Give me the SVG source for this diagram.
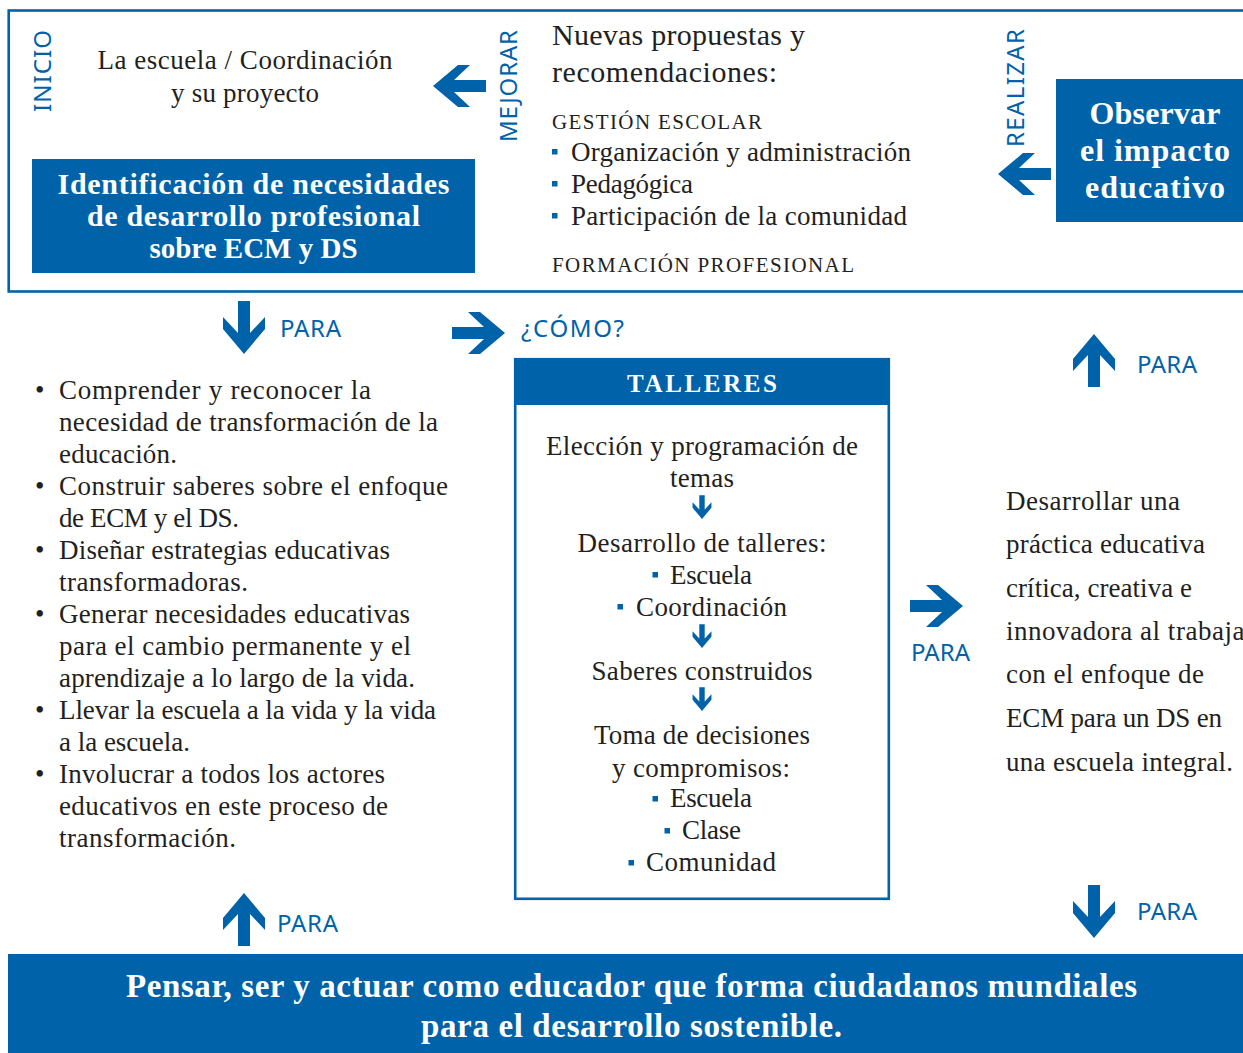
<svg xmlns="http://www.w3.org/2000/svg" xmlns:xlink="http://www.w3.org/1999/xlink" width="1243" height="1053" viewBox="0 0 1243 1053">
<style>
.s{font-family:"Liberation Serif","Times New Roman",serif;fill:#231f20;font-size:27px}
.big{font-size:30px}
.sc{font-family:"Liberation Serif","Times New Roman",serif;fill:#231f20;font-size:21px}
.b{font-family:"Liberation Serif","Times New Roman",serif;font-weight:bold;fill:#ffffff}
.lab{font-family:"Noto Sans","Open Sans",sans-serif;fill:#0062a8;font-size:24px}
.blue{fill:#0062a8}
.m{text-anchor:middle}
</style>
<defs>
<path id="bigArrow" d="M0,0 L-25,-21 L-37,-21 L-21,-6 L-53,-6 L-53,6 L-21,6 L-37,21 L-25,21 Z" fill="#0062a8"/>
</defs>
<rect width="1243" height="1053" fill="#ffffff"/>

<g id="top-frame">
<rect x="8.7" y="10.5" width="1260" height="281" fill="none" stroke="#0062a8" stroke-width="2.6"/>
</g>

<g id="inicio">
<text class="lab m" transform="translate(51,71) rotate(-90)" textLength="82">INICIO</text>
<text class="s m" x="245" y="69" textLength="295">La escuela / Coordinación</text>
<text class="s m" x="245" y="102" textLength="148">y su proyecto</text>
</g>

<g id="identificacion">
<rect x="32" y="159" width="443" height="114" class="blue"/>
<text class="b m" x="253.5" y="194" font-size="30" textLength="392">Identificación de necesidades</text>
<text class="b m" x="253.5" y="226" font-size="30" textLength="333">de desarrollo profesional</text>
<text class="b m" x="253.5" y="258" font-size="29">sobre ECM y DS</text>
</g>

<g id="propuestas">
<text class="s big" x="552" y="45" textLength="253">Nuevas propuestas y</text>
<text class="s big" x="552" y="82" textLength="225">recomendaciones:</text>
<text class="sc" x="552" y="129" textLength="210">GESTIÓN ESCOLAR</text>
<rect x="552" y="149" width="5.5" height="5.5" class="blue"/>
<text class="s" x="571" y="161" textLength="340">Organización y administración</text>
<rect x="552" y="181" width="5.5" height="5.5" class="blue"/>
<text class="s" x="571" y="193" textLength="122">Pedagógica</text>
<rect x="552" y="213" width="5.5" height="5.5" class="blue"/>
<text class="s" x="571" y="225" textLength="336">Participación de la comunidad</text>
<text class="sc" x="552" y="272" textLength="302">FORMACIÓN PROFESIONAL</text>
</g>

<g id="observar">
<rect x="1056" y="79" width="190" height="143" class="blue"/>
<text class="b m" x="1155" y="124" font-size="32" textLength="131">Observar</text>
<text class="b m" x="1155" y="161" font-size="32" textLength="150">el impacto</text>
<text class="b m" x="1155" y="198" font-size="32" textLength="140">educativo</text>
</g>

<g id="objetivos">
<text class="s" x="35" y="399">•</text>
<text class="s" x="59" y="399" textLength="312">Comprender y reconocer la</text>
<text class="s" x="59" y="431" textLength="379">necesidad de transformación de la</text>
<text class="s" x="59" y="463" textLength="118">educación.</text>
<text class="s" x="35" y="495">•</text>
<text class="s" x="59" y="495" textLength="389">Construir saberes sobre el enfoque</text>
<text class="s" x="59" y="527" textLength="180">de ECM y el DS.</text>
<text class="s" x="35" y="559">•</text>
<text class="s" x="59" y="559" textLength="331">Diseñar estrategias educativas</text>
<text class="s" x="59" y="591" textLength="189">transformadoras.</text>
<text class="s" x="35" y="623">•</text>
<text class="s" x="59" y="623" textLength="351">Generar necesidades educativas</text>
<text class="s" x="59" y="655" textLength="352">para el cambio permanente y el</text>
<text class="s" x="59" y="687" textLength="356">aprendizaje a lo largo de la vida.</text>
<text class="s" x="35" y="719">•</text>
<text class="s" x="59" y="719" textLength="377">Llevar la escuela a la vida y la vida</text>
<text class="s" x="59" y="751" textLength="131">a la escuela.</text>
<text class="s" x="35" y="783">•</text>
<text class="s" x="59" y="783" textLength="326">Involucrar a todos los actores</text>
<text class="s" x="59" y="815" textLength="329">educativos en este proceso de</text>
<text class="s" x="59" y="847" textLength="177">transformación.</text>
</g>

<g id="talleres">
<rect x="515.2" y="359.2" width="373.6" height="539.6" fill="#ffffff" stroke="#0062a8" stroke-width="2.6"/>
<rect x="514" y="358" width="376" height="47" class="blue"/>
<text class="b m" x="702" y="392" font-size="25" textLength="150">TALLERES</text>
<text class="s m" x="702" y="455" textLength="312">Elección y programación de</text>
<text class="s m" x="702" y="487" textLength="64">temas</text>
<use xlink:href="#bigArrow" transform="translate(702,519) rotate(90) scale(0.45)"/>
<text class="s m" x="702" y="552" textLength="249">Desarrollo de talleres:</text>
<rect x="652.5" y="572" width="5.5" height="5.5" class="blue"/>
<text class="s" x="670" y="584" textLength="82">Escuela</text>
<rect x="617.5" y="604" width="5.5" height="5.5" class="blue"/>
<text class="s" x="636" y="616" textLength="151">Coordinación</text>
<use xlink:href="#bigArrow" transform="translate(702,648) rotate(90) scale(0.45)"/>
<text class="s m" x="702" y="680" textLength="221">Saberes construidos</text>
<use xlink:href="#bigArrow" transform="translate(702,711) rotate(90) scale(0.45)"/>
<text class="s m" x="702" y="744" textLength="216">Toma de decisiones</text>
<text class="s m" x="701" y="777" textLength="178">y compromisos:</text>
<rect x="652.5" y="796" width="5.5" height="5.5" class="blue"/>
<text class="s" x="670" y="807" textLength="82">Escuela</text>
<rect x="664.5" y="828" width="5.5" height="5.5" class="blue"/>
<text class="s" x="682" y="839" textLength="59">Clase</text>
<rect x="628.5" y="860" width="5.5" height="5.5" class="blue"/>
<text class="s" x="646" y="871" textLength="130">Comunidad</text>
</g>

<g id="practica">
<text class="s" x="1006" y="510" textLength="174">Desarrollar una</text>
<text class="s" x="1006" y="553" textLength="199">práctica educativa</text>
<text class="s" x="1006" y="597" textLength="186">crítica, creativa e</text>
<text class="s" x="1006" y="640" textLength="248">innovadora al trabajar</text>
<text class="s" x="1006" y="683" textLength="198">con el enfoque de</text>
<text class="s" x="1006" y="727" textLength="216">ECM para un DS en</text>
<text class="s" x="1006" y="771" textLength="227">una escuela integral.</text>
</g>

<g id="pensar">
<rect x="8" y="954" width="1240" height="100" class="blue"/>
<text class="b m" x="631.5" y="997" font-size="33" textLength="1011">Pensar, ser y actuar como educador que forma ciudadanos mundiales</text>
<text class="b m" x="631.5" y="1037" font-size="33" textLength="421">para el desarrollo sostenible.</text>
</g>

<g id="connectors">
<use xlink:href="#bigArrow" transform="translate(433,86) rotate(180)"/>
<text class="lab m" transform="translate(517,86) rotate(-90)" textLength="112">MEJORAR</text>
<use xlink:href="#bigArrow" transform="translate(998,174) rotate(180)"/>
<text class="lab m" transform="translate(1024,88) rotate(-90)" textLength="118">REALIZAR</text>
<use xlink:href="#bigArrow" transform="translate(244,354) rotate(90)"/>
<text class="lab" x="280" y="337" textLength="61">PARA</text>
<use xlink:href="#bigArrow" transform="translate(505,333)"/>
<text class="lab" x="521" y="337" textLength="103">¿CÓMO?</text>
<use xlink:href="#bigArrow" transform="translate(1094,334) rotate(-90)"/>
<text class="lab" x="1137" y="373" textLength="60">PARA</text>
<use xlink:href="#bigArrow" transform="translate(963,606)"/>
<text class="lab" x="911" y="661" textLength="59">PARA</text>
<use xlink:href="#bigArrow" transform="translate(244,893) rotate(-90)"/>
<text class="lab" x="277" y="932" textLength="61">PARA</text>
<use xlink:href="#bigArrow" transform="translate(1094,938) rotate(90)"/>
<text class="lab" x="1137" y="920" textLength="60">PARA</text>
</g>
</svg>
